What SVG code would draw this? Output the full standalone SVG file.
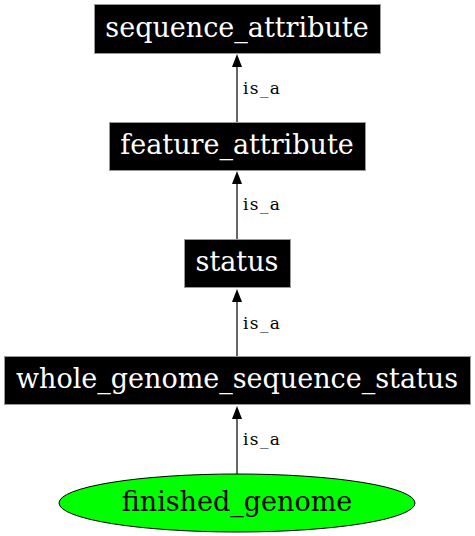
<svg xmlns="http://www.w3.org/2000/svg" width="475" height="536" viewBox="0 0 475 536">
<style>
.box{fill:#000;stroke:#999;stroke-width:1}
.lbl{font-family:"DejaVu Serif",serif;font-size:27px;fill:#fff;text-anchor:middle}
.elbl{font-family:"DejaVu Serif",serif;font-size:17px;fill:#000}
.edge{stroke:#000;stroke-width:1.2;fill:none}
.ah{fill:#000}
</style>
<rect width="475" height="536" fill="#fff"/>
<g id="connectors">
<line class="edge" x1="237" y1="123" x2="237" y2="60"/>
<text class="elbl" x="243" y="94" textLength="37">is_a</text>
<line class="edge" x1="237" y1="239" x2="237" y2="177"/>
<text class="elbl" x="243" y="210" textLength="37">is_a</text>
<line class="edge" x1="237" y1="356" x2="237" y2="295"/>
<text class="elbl" x="243" y="329" textLength="37">is_a</text>
<line class="edge" x1="237" y1="474" x2="237" y2="412"/>
<text class="elbl" x="243" y="445" textLength="37">is_a</text>
<path class="ah" d="M232,67 L237,54 L242,67 Z"/>
<path class="ah" d="M232,184 L237,171 L242,184 Z"/>
<path class="ah" d="M232,302 L237,289 L242,302 Z"/>
<path class="ah" d="M232,419 L237,406 L242,419 Z"/>
</g>
<g id="sequence_attribute">
<rect class="box" x="94.5" y="4.5" width="286" height="49"/>
<text class="lbl" x="237" y="37">sequence_attribute</text>
</g>
<g id="feature_attribute">
<rect class="box" x="109.5" y="122.5" width="256" height="48"/>
<text class="lbl" x="237" y="154">feature_attribute</text>
</g>
<g id="status">
<rect class="box" x="184.5" y="239.5" width="106" height="48"/>
<text class="lbl" x="237" y="271">status</text>
</g>
<g id="whole_genome_sequence_status">
<rect class="box" x="4.5" y="356.5" width="466" height="48"/>
<text class="lbl" x="237" y="388">whole_genome_sequence_status</text>
</g>
<g id="finished_genome">
<ellipse cx="237" cy="503" rx="178" ry="29" fill="#00ff00" stroke="#000" stroke-width="1"/>
<text class="lbl" x="237" y="511" style="fill:#000">finished_genome</text>
</g>
</svg>
